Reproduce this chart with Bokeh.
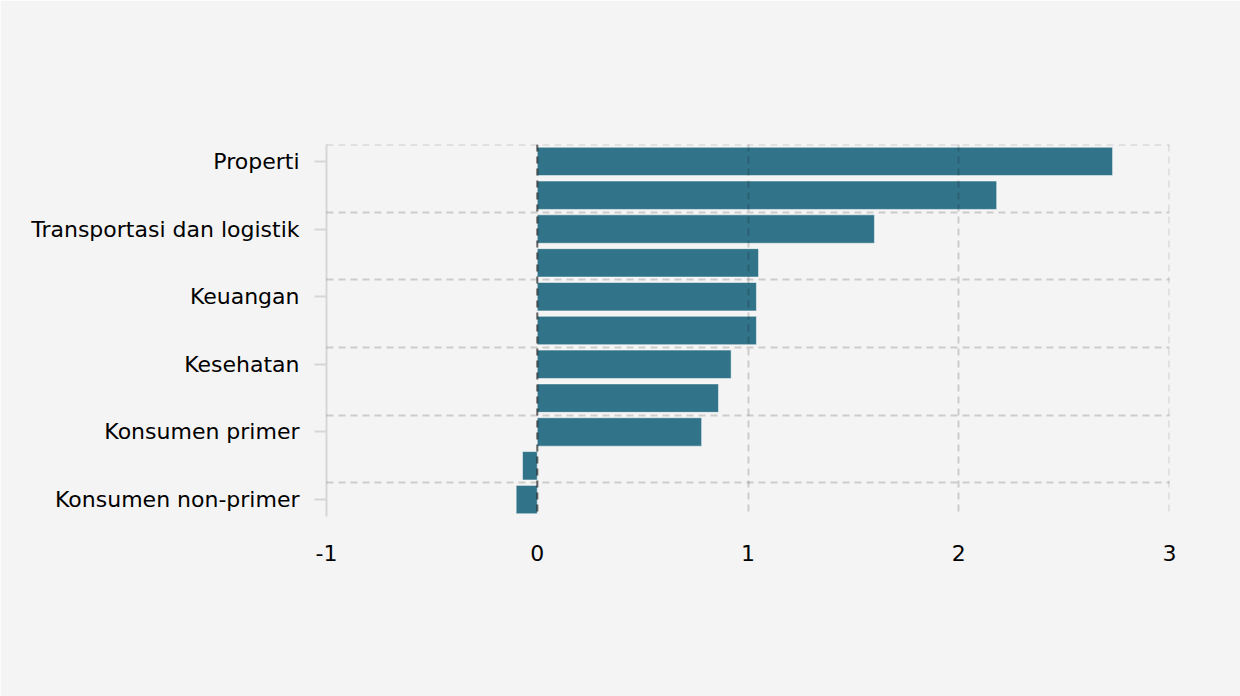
from bokeh.plotting import figure
from bokeh.models import Range1d, FixedTicker, Span
from bokeh.embed import file_html
from bokeh.resources import INLINE

# data, top to bottom
labels = ["Properti", "", "Transportasi dan logistik", "", "Keuangan", "",
          "Kesehatan", "", "Konsumen primer", "", "Konsumen non-primer"]
values = [2.73, 2.18, 1.60, 1.05, 1.04, 1.04, 0.92, 0.86, 0.78, -0.07, -0.10]
x_ticks = [-1, 0, 1, 2, 3]

pos = list(range(len(values)))
shown = [i for i, lab in enumerate(labels) if lab]
band_edges = [i - 0.5 for i in shown]

bg = "#f4f4f4"
font = "DejaVu Sans"
grid_style = dict(line_color="black", line_alpha=0.16, line_width=2,
                  line_dash="7 5", level="overlay")

p = figure(width=1240, height=696, output_backend="svg", toolbar_location=None,
           x_range=Range1d(x_ticks[0], x_ticks[-1]),
           y_range=Range1d(len(values) - 0.5, -0.5),
           min_border_left=326, min_border_right=71,
           min_border_top=144, min_border_bottom=180,
           background_fill_color=bg, border_fill_color=bg)
p.outline_line_color = None

p.hbar(y=pos, left=0, right=values, height=0.84,
       fill_color="#317389", line_color="white", line_alpha=0.5, line_width=1)

# grids drawn over the bars
p.xgrid.ticker = FixedTicker(ticks=x_ticks)
p.ygrid.ticker = FixedTicker(ticks=band_edges)
for g in (p.xgrid, p.ygrid):
    g.level = "overlay"
    g.grid_line_color = "black"
    g.grid_line_alpha = 0.16
    g.grid_line_width = 2
    g.grid_line_dash = "7 5"

# edge lines that the grid skips
p.add_layout(Span(location=x_ticks[-1], dimension="height", **grid_style))
p.add_layout(Span(location=band_edges[0], dimension="width", **grid_style))

zero = Span(location=0, dimension="height", line_color="black", line_alpha=0.5,
            line_width=2, line_dash="7 5", level="overlay")
p.add_layout(zero)

# x axis: labels only
p.xaxis.ticker = FixedTicker(ticks=x_ticks)
p.xaxis.major_label_overrides = {t: str(t) for t in x_ticks}
p.xaxis.axis_line_color = None
p.xaxis.major_tick_line_color = None
p.xaxis.minor_tick_line_color = None
p.xaxis.major_tick_out = 0
p.xaxis.major_tick_in = 0
p.xaxis.major_label_standoff = 28

# y axis: every other category labelled
p.yaxis.ticker = FixedTicker(ticks=shown)
p.yaxis.major_label_overrides = {i: labels[i] for i in shown}
p.yaxis.axis_line_color = "#d6d6d6"
p.yaxis.axis_line_width = 2
p.yaxis.major_tick_line_color = "#d6d6d6"
p.yaxis.major_tick_line_width = 2
p.yaxis.major_tick_out = 12
p.yaxis.major_tick_in = 0
p.yaxis.minor_tick_line_color = None
p.yaxis.major_label_standoff = 15

for ax in (p.xaxis, p.yaxis):
    ax.major_label_text_font = font
    ax.major_label_text_font_size = "22px"
    ax.major_label_text_color = "black"

open("out.html", "w").write(file_html(p, INLINE))
